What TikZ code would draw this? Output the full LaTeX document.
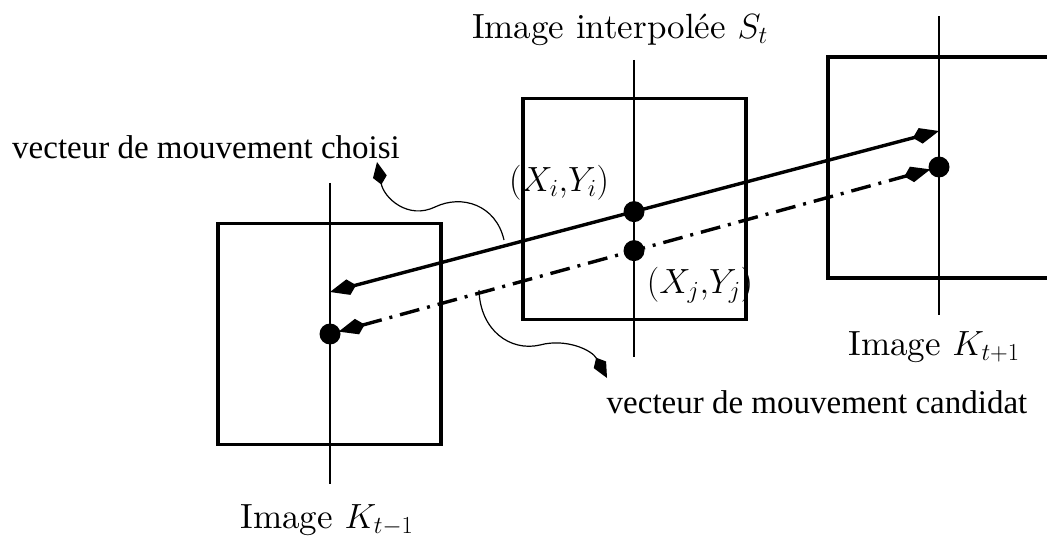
\documentclass[tikz,border=0pt]{standalone}
\usepackage{fix-cm}
\usepackage{fontspec}
\newfontfamily\tms{Liberation Serif}
\newfontfamily\lmten{lmroman10-regular.otf}
\usetikzlibrary{arrows.meta,calc}
\begin{document}
\begin{tikzpicture}[x=1pt,y=-1pt,
  frame/.style={draw,line width=3.2pt,minimum width=223pt,minimum height=221pt,inner sep=0pt},
  axis/.style={line width=1.4pt},
  dotnode/.style={circle,fill=black,inner sep=0pt,minimum size=21pt},
  vec/.style={line width=3.4pt},
  dashdotline/.style={line width=3.4pt,dash pattern=on 20pt off 8pt on 3pt off 8pt},
  vtip/.tip={Kite[length=27pt,width=16pt,inset=8pt]},
  ctip/.tip={Kite[length=23pt,width=14pt,inset=8pt]},
  curv/.style={line width=1.2pt},
  lm/.style={font=\lmten\fontsize{35}{40}\selectfont,inner sep=0pt},
  tm/.style={font=\tms\fontsize{33}{38}\selectfont,inner sep=0pt}]
\useasboundingbox (0,0) rectangle (1047,540);
% frames
\node[frame] (fl) at (329.5,334) {};
\node[frame] (fm) at (634.5,209) {};
\node[frame] (fr) at (939.5,167.5) {};
% axes
\coordinate (al1) at (330,183); \coordinate (al2) at (330,484);
\coordinate (am1) at (634,60);  \coordinate (am2) at (634,357);
\coordinate (ar1) at (939,16);  \coordinate (ar2) at (939,315);
\draw[axis] (al1) -- (al2);
\draw[axis] (am1) -- (am2);
\draw[axis] (ar1) -- (ar2);
% chosen vector
\coordinate (sl) at (330,292);
\coordinate (sr) at (939,131);
\draw[vec,vtip-vtip] (sl) -- (sr);
\node[dotnode] (pi) at ($(sl)!0.4992!(sr)$) {};
% candidate vector
\node[dotnode] (dl) at (330,334) {};
\node[dotnode] (dr) at (939,167) {};
\draw[dashdotline,vtip-vtip,shorten <=9pt,shorten >=9pt] (dl.center) -- (dr.center);
\node[dotnode] (pj) at ($(dl)!0.4992!(dr)$) {};
% labels
\node[lm] (lS) at (620,30) {Image interpolée $S_t$};
\node[lm] (lKm) at (327,520) {Image $K_{t-1}$};
\node[lm] (lKp) at (934,347) {Image $K_{t+1}$};
\node[lm] (lXi) at (559,183) {$(X_i{,}Y_i)$};
\node[lm] (lXj) at (700,285) {$(X_j{,}Y_j)$};
\node[tm,anchor=west] (lch) at (12,147) {vecteur de mouvement choisi};
\node[tm] (lca) at (817,402) {vecteur de mouvement candidat};
% curved pointers
\coordinate (c1s) at (504,240);
\coordinate (c1e) at (377,162);
\draw[curv,-ctip] (c1s) .. controls (496,205) and (462,194) .. (435,207)
  .. controls (408,220) and (384,198) .. (c1e);
\coordinate (c2s) at (479,290);
\coordinate (c2e) at (607,378);
\draw[curv,-ctip] (c2s) .. controls (480,330) and (510,352) .. (540,345)
  .. controls (566,338) and (592,350) .. (c2e);
\end{tikzpicture}
\end{document}
